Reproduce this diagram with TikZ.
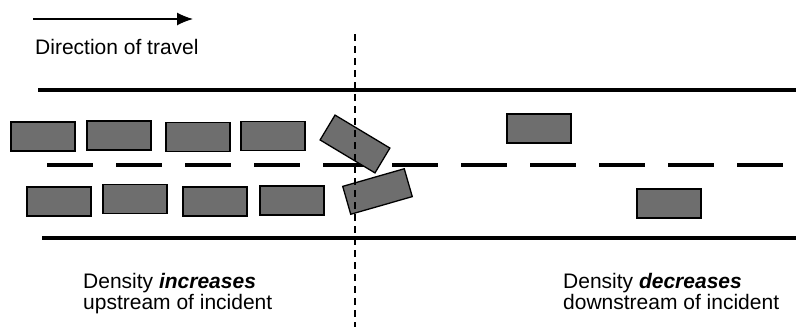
\documentclass[tikz,border=0pt]{standalone}
\usepackage{fontspec}
\setmainfont{Liberation Sans}
\usetikzlibrary{arrows.meta}
\definecolor{cargray}{HTML}{6E6E6E}
\tikzset{
  car/.style   = {draw, fill=cargray, line width=1.3pt, inner sep=0pt,
                  minimum width=64pt, minimum height=29pt},
  road/.style  = {line width=4pt},
  lane/.style  = {line width=4pt, dash pattern=on 46pt off 23pt},
  cut/.style   = {line width=1.5pt, dash pattern=on 7pt off 5pt},
  ar/.style    = {-{Latex[length=16pt, width=13pt]}, line width=1.3pt},
  lbl/.style   = {font=\fontsize{21}{21}\selectfont, inner sep=0pt, align=left}
}
\begin{document}
\begin{tikzpicture}[x=1pt, y=-1pt]
  \useasboundingbox (0,0) rectangle (796,327);
  % direction arrow
  \coordinate (from) at (33,19);
  \coordinate (to)   at (193,19);
  \draw[ar] (from) -- (to);
  \node[lbl, anchor=base west] (dir) at (35,54) {Direction of travel};
  % road edges and lane divider
  \draw[road] (38,90)  -- (796,90);
  \draw[road] (42,238) -- (796,238);
  \draw[lane] (47,165) -- (785,165);
  % queued cars upstream
  \node[car] (up1) at (43,136.5) {};
  \node[car] (up2) at (119,135.5) {};
  \node[car] (up3) at (198,137) {};
  \node[car] (up4) at (273,136) {};
  \node[car] (lo1) at (59,201.5) {};
  \node[car] (lo2) at (135,199) {};
  \node[car] (lo3) at (215,201.5) {};
  \node[car] (lo4) at (292,200.5) {};
  % incident
  \node[car, rotate=-31] (crashA) at (355,144) {};
  \node[car, rotate=16]  (crashB) at (377.5,191.5) {};
  % free flow downstream
  \node[car] (freeA) at (539,128.5) {};
  \node[car] (freeB) at (669,203.5) {};
  % incident location
  \coordinate (cutTop) at (355,34);
  \coordinate (cutBot) at (355,327);
  \draw[cut] (cutTop) -- (cutBot);
  \node[lbl, anchor=base west] (upstr) at (83,309)
        {Density \textbf{\textit{increases}}\\upstream of incident};
  \node[lbl, anchor=base west] (downstr) at (563,309)
        {Density \textbf{\textit{decreases}}\\downstream of incident};
\end{tikzpicture}
\end{document}
